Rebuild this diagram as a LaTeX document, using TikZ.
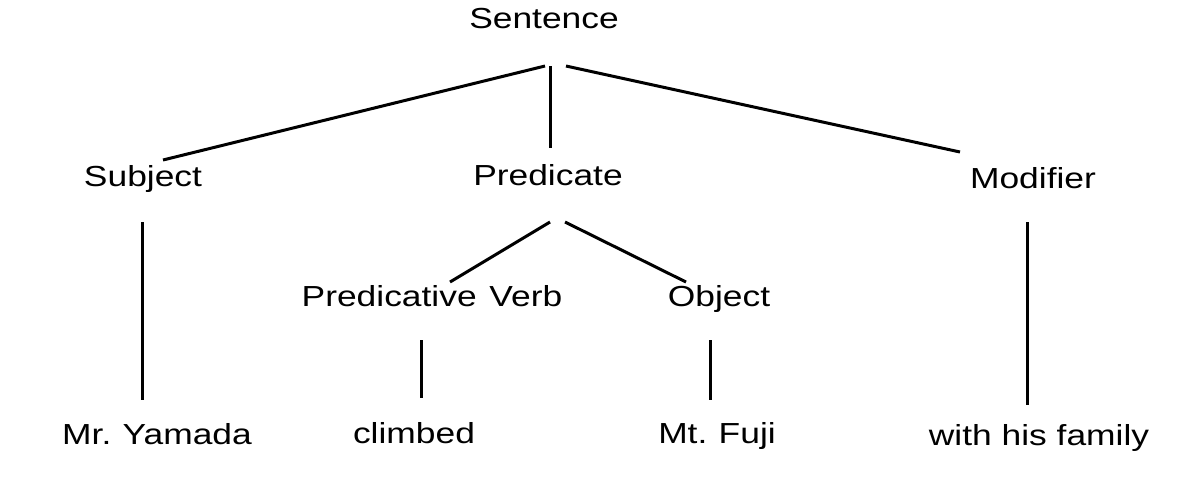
\documentclass[tikz,border=0pt]{standalone}
\usepackage{fontspec}
\setmainfont[FakeStretch=1.22]{Liberation Sans}
\begin{document}
\frenchspacing
\begin{tikzpicture}[x=1pt,y=-1pt,
  lbl/.style={font=\fontsize{29}{34}\selectfont, inner sep=0pt, anchor=base},
  conn/.style={line width=3pt}]
\useasboundingbox[fill=white] (0,0) rectangle (1200,483);
% labels
\node[lbl] (sentence) at (544,28) {Sentence};
\node[lbl] (subject) at (143,186) {Subject};
\node[lbl] (predicate) at (548,185) {Predicate};
\node[lbl] (modifier) at (1033,188) {Modifier};
\node[lbl] (pverb) at (432,306) {Predicative\hspace{3pt} Verb};
\node[lbl] (object) at (719,306) {Object};
\node[lbl] (yamada) at (157,444) {Mr.\hspace{1.5pt} Yamada};
\node[lbl] (climbed) at (414,443) {climbed};
\node[lbl] (fuji) at (717,443) {Mt.\hspace{1.5pt} Fuji};
\node[lbl] (family) at (1039,445) {with his family};
% connector end points
\coordinate (s1) at (545,66);
\coordinate (s2) at (550,66);
\coordinate (s3) at (566,66);
\coordinate (subjTop) at (163,160);
\coordinate (predTop) at (550,148);
\coordinate (modTop) at (960,152);
\coordinate (p1) at (550,222);
\coordinate (p2) at (565,222);
\coordinate (pvTop) at (450,282);
\coordinate (objTop) at (686,282);
\coordinate (subjBot) at (142,222);
\coordinate (yamTop) at (142,400);
\coordinate (pvBot) at (421,340);
\coordinate (climbTop) at (421,398);
\coordinate (objBot) at (710,340);
\coordinate (fujiTop) at (710,400);
\coordinate (modBot) at (1027,222);
\coordinate (famTop) at (1027,405);
% connectors
\draw[conn] (s1) -- (subjTop);
\draw[conn] (s2) -- (predTop);
\draw[conn] (s3) -- (modTop);
\draw[conn] (p1) -- (pvTop);
\draw[conn] (p2) -- (objTop);
\draw[conn] (subjBot) -- (yamTop);
\draw[conn] (pvBot) -- (climbTop);
\draw[conn] (objBot) -- (fujiTop);
\draw[conn] (modBot) -- (famTop);
\end{tikzpicture}
\end{document}
